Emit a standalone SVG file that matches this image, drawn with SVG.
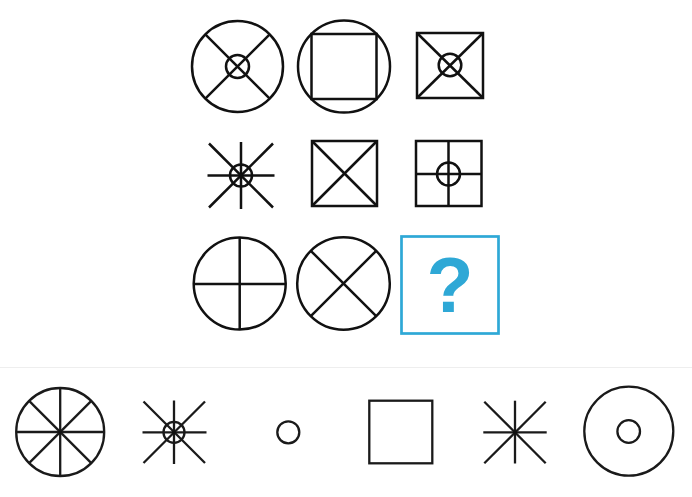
<svg xmlns="http://www.w3.org/2000/svg" width="692" height="497" viewBox="0 0 692 497">
<style>
.s{fill:none;stroke:#111;stroke-width:2.5;stroke-linecap:butt}
.b{fill:none;stroke:#1a1a1a;stroke-width:2.3}
.dot{fill:#111}
.q{fill:#fff;stroke:#2ea8d6;stroke-width:2.7}
.qt{fill:#2ea8d6;font-family:"Liberation Sans",Arial,sans-serif;font-weight:bold;font-size:77px;text-anchor:middle}
</style>
<rect width="692" height="497" fill="#fff"/>
<g id="r1c1" class="s">
<circle cx="237.5" cy="66.5" r="45.5"/>
<circle cx="237.5" cy="66.5" r="11.5"/>
<line x1="205.3" y1="34.3" x2="269.7" y2="98.7"/>
<line x1="269.7" y1="34.3" x2="205.3" y2="98.7"/>
</g>
<g id="r1c2" class="s">
<circle cx="344" cy="66.5" r="46"/>
<rect x="311.5" y="34" width="65" height="65"/>
</g>
<g id="r1c3" class="s">
<rect x="417" y="33" width="66" height="65"/>
<circle cx="450" cy="65" r="11.3"/>
<line x1="417" y1="33" x2="483" y2="98"/>
<line x1="483" y1="33" x2="417" y2="98"/>
</g>
<g id="r2c1" class="s">
<line x1="241" y1="142" x2="241" y2="209"/>
<line x1="207.5" y1="175.5" x2="274.5" y2="175.5"/>
<line x1="209" y1="143.5" x2="273" y2="207.5"/>
<line x1="273" y1="143.5" x2="209" y2="207.5"/>
<circle cx="241" cy="175.5" r="11"/>
<circle class="dot" cx="241" cy="175.5" r="2" stroke="none"/>
</g>
<g id="r2c2" class="s">
<rect x="312" y="141" width="65" height="65"/>
<line x1="312" y1="141" x2="377" y2="206"/>
<line x1="377" y1="141" x2="312" y2="206"/>
</g>
<g id="r2c3" class="s">
<rect x="416" y="141" width="65.5" height="65"/>
<line x1="448.5" y1="141" x2="448.5" y2="206"/>
<line x1="416" y1="174" x2="481.5" y2="174"/>
<circle cx="448.5" cy="174" r="11.5"/>
</g>
<g id="r3c1" class="s">
<circle cx="239.7" cy="283.5" r="46"/>
<line x1="239.7" y1="237.5" x2="239.7" y2="329.5"/>
<line x1="193.7" y1="284" x2="285.7" y2="284"/>
</g>
<g id="r3c2" class="s">
<circle cx="343.5" cy="283.5" r="46.3"/>
<line x1="310.8" y1="250.8" x2="376.2" y2="316.2"/>
<line x1="376.2" y1="250.8" x2="310.8" y2="316.2"/>
</g>
<g id="question">
<rect class="q" x="401.5" y="236.5" width="97" height="97"/>
<text class="qt" x="450" y="312">?</text>
</g>
<line x1="0" y1="367.5" x2="692" y2="367.5" stroke="#eeeeee" stroke-width="1"/>
<g id="opt1" class="b">
<circle cx="60.2" cy="432" r="44"/>
<line x1="60.2" y1="388" x2="60.2" y2="476"/>
<line x1="16.2" y1="432" x2="104.2" y2="432"/>
<line x1="29.1" y1="400.9" x2="91.3" y2="463.1"/>
<line x1="91.3" y1="400.9" x2="29.1" y2="463.1"/>
<circle class="dot" cx="60.2" cy="432" r="2" stroke="none"/>
</g>
<g id="opt2" class="b">
<line x1="174" y1="400.5" x2="174" y2="464"/>
<line x1="142.5" y1="432.3" x2="206.5" y2="432.3"/>
<line x1="143.5" y1="401.5" x2="205" y2="463"/>
<line x1="205" y1="401.5" x2="143.5" y2="463"/>
<circle cx="174" cy="432.3" r="10.5"/>
<circle class="dot" cx="174" cy="432.3" r="2" stroke="none"/>
</g>
<g id="opt3" class="b">
<circle cx="288.3" cy="432.3" r="11"/>
</g>
<g id="opt4" class="b">
<rect x="369.3" y="400.7" width="63" height="62.6"/>
</g>
<g id="opt5" class="b">
<line x1="515" y1="400.7" x2="515" y2="463.5"/>
<line x1="483.3" y1="432.3" x2="546.7" y2="432.3"/>
<line x1="484.3" y1="401.7" x2="545.7" y2="463.3"/>
<line x1="545.7" y1="401.7" x2="484.3" y2="463.3"/>
<circle class="dot" cx="515" cy="432.3" r="2" stroke="none"/>
</g>
<g id="opt6" class="b">
<circle cx="628.8" cy="431.2" r="44.5"/>
<circle cx="628.7" cy="431.5" r="11.3"/>
</g>
</svg>
